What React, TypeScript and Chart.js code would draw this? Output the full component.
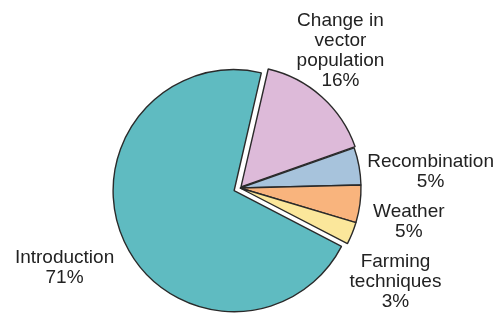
import React, { useEffect, useRef } from "react";
import { Chart, registerables } from "chart.js";

Chart.register(...registerables);

const categories = ["Change in vector population", "Recombination", "Weather", "Farming techniques", "Introduction"];
const labelLines = [
  ["Change in", "vector", "population", "16%"],
  ["Recombination", "5%"],
  ["Weather", "5%"],
  ["Farming", "techniques", "3%"],
  ["Introduction", "71%"],
];
const values = [16, 5, 5, 3, 71];
const colors = ["#ddbad9", "#a7c3dc", "#f9b47d", "#fbe79b", "#5fbbc1"];
// explode distance (px) of each slice along its mid angle
const explode = [1.5, 0, 0, 0, 6.5];

// label anchors relative to pie center, in units of radius
const labelAnchors = [
  [0.83, -1.385],
  [1.575, -0.215],
  [1.395, 0.195],
  [1.285, 0.607],
  [-1.45, 0.58],
];

const explodePlugin = {
  id: "explode",
  afterDatasetsUpdate(chart: any) {
    const meta = chart.getDatasetMeta(0);
    meta.data.forEach((el: any, i: number) => {
      const d = explode[i] || 0;
      if (!d) return;
      const mid = (el.startAngle + el.endAngle) / 2;
      el.x += Math.cos(mid) * d;
      el.y += Math.sin(mid) * d;
    });
  },
};

const labelPlugin = {
  id: "sliceLabels",
  afterDraw(chart: any) {
    const ctx = chart.ctx;
    const meta = chart.getDatasetMeta(0);
    const ref = meta.data[1];
    const cx = ref.x;
    const cy = ref.y;
    const R = ref.outerRadius;
    ctx.save();
    ctx.fillStyle = "#222";
    ctx.font = "19px 'Liberation Sans', Arial, sans-serif";
    ctx.textAlign = "center";
    ctx.textBaseline = "middle";
    labelLines.forEach((lines, i) => {
      const [fx, fy] = labelAnchors[i];
      const x = cx + fx * R;
      const y0 = cy + fy * R;
      lines.forEach((t, j) => ctx.fillText(t, x, y0 + j * 20));
    });
    ctx.restore();
  },
};

export default function App() {
  const ref = useRef<HTMLCanvasElement>(null);
  useEffect(() => {
    const chart = new Chart(ref.current!, {
      type: "pie",
      data: {
        labels: categories,
        datasets: [
          {
            data: values,
            backgroundColor: colors,
            borderColor: "#2a2a2a",
            borderWidth: 1.4,
            radius: 121,
          } as any,
        ],
      },
      options: {
        animation: false,
        responsive: false,
        rotation: 13,
        layout: { padding: { left: 0, right: 14, top: 63, bottom: 0 } },
        plugins: {
          legend: { display: false },
          tooltip: { enabled: false },
        },
      },
      plugins: [explodePlugin, labelPlugin],
    });
    return () => chart.destroy();
  }, []);
  return (
    <div style={{ position: "absolute", left: 0, top: 0, width: 494, height: 313, background: "#fff" }}>
      <canvas ref={ref} width={494} height={313} style={{ width: 494, height: 313, display: "block" }} />
    </div>
  );
}
